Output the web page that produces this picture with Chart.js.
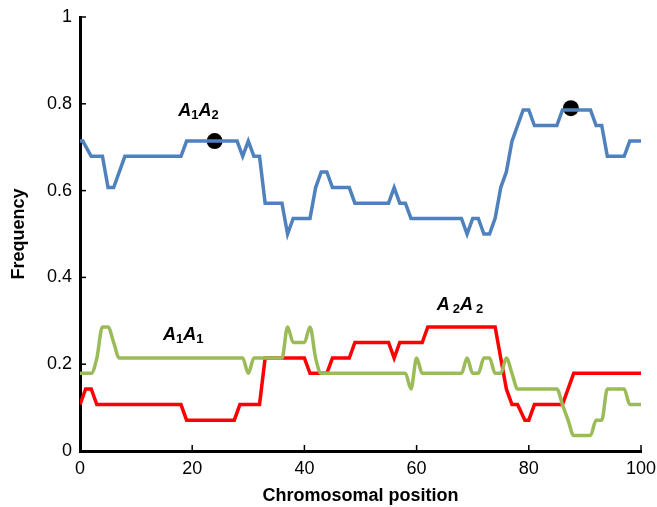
<!DOCTYPE html>
<html>
<head>
<meta charset="utf-8">
<script src="https://cdn.jsdelivr.net/npm/chart.js@4.4.1/dist/chart.umd.min.js"></script>
<style>
  html, body { margin: 0; padding: 0; background: #fff; }
  #wrap { width: 657px; height: 507px; }
</style>
</head>
<body>
<div id="wrap"><canvas id="chart"></canvas></div>
<script>
// Genotype frequencies along a chromosome

const xTicks = [0, 20, 40, 60, 80, 100];
const yTicks = [0, 0.2, 0.4, 0.6, 0.8, 1];

// A1A2 (blue)
const hetPos  = [0, 0.5, 2, 4, 5, 6, 8, 18, 19, 28, 29, 30, 31, 32, 33, 36, 37, 38, 41, 42, 43, 44, 45, 48, 49,
                 55, 56, 57, 58, 59, 68, 69, 70, 71, 72, 73, 74, 75, 76, 77, 79, 80, 81, 85, 86, 91, 92, 93, 94,
                 97, 98, 100];
const hetFreq = [.714, .714, .679, .679, .607, .607, .679, .679, .714, .714, .679, .714, .679, .679, .571, .571,
                 .5, .536, .536, .607, .643, .643, .607, .607, .571, .571, .607, .571, .571, .536, .536, .5, .536,
                 .536, .5, .5, .536, .607, .643, .714, .786, .786, .75, .75, .786, .786, .75, .75, .679, .679,
                 .714, .714];

// A2A2 (red)
const a2Pos  = [0, 1, 2, 3, 18, 19, 27.5, 28.5, 32, 33, 40, 41, 44, 45, 48, 49, 55, 56, 57, 61, 62, 74, 75, 76,
                77, 78, 79.3, 80, 81, 86, 88, 100];
const a2Freq = [.107, .143, .143, .107, .107, .071, .071, .107, .107, .214, .214, .179, .179, .214, .214, .25, .25,
                .214, .25, .25, .286, .286, .214, .143, .107, .107, .071, .071, .107, .107, .179, .179];

// A1A1 (green, smoothed)
const a1Pos  = [0, 1, 2, 3, 4, 5, 6, 7, 8, 28, 29, 30, 31, 32, 36, 37, 38, 40, 41, 42, 43, 44, 58, 59, 60, 61, 62,
                68, 69, 70, 71, 72, 73, 74, 75, 76, 77, 78, 84, 85, 86, 87, 88, 90, 91, 92, 93, 94, 97, 98, 100];
const a1Freq = [.179, .179, .179, .214, .286, .286, .25, .214, .214, .214, .214, .179, .214, .214, .214, .286, .25,
                .25, .286, .214, .179, .179, .179, .143, .214, .179, .179, .179, .214, .179, .179, .214, .214, .179,
                .179, .214, .179, .143, .143, .143, .107, .071, .036, .036, .036, .071, .071, .143, .143, .107, .107];

// highlighted points
const dotPos  = [24, 87.5];
const dotFreq = [.714, .79];

// genotype labels: [x, y, first subscript, second subscript, gap]
const genoLabels = [
  [17.5, 0.772, "1", "2", 0],
  [14.8, 0.256, "1", "1", 0],
  [63.6, 0.325, "2", "2", 3]
];

const pts = (xs, ys) => xs.map((x, i) => ({ x, y: ys[i] }));

const decor = {
  id: "decor",
  afterDatasetsDraw(chart) {
    const { ctx, scales: { x, y } } = chart;
    ctx.save();
    ctx.strokeStyle = "#000";
    ctx.lineWidth = 1.5;
    xTicks.forEach(v => {
      const px = x.getPixelForValue(v);
      ctx.beginPath(); ctx.moveTo(px, y.bottom); ctx.lineTo(px, y.bottom - 6); ctx.stroke();
    });
    yTicks.forEach(v => {
      const py = y.getPixelForValue(v);
      ctx.beginPath(); ctx.moveTo(x.left, py); ctx.lineTo(x.left + 6, py); ctx.stroke();
    });

    ctx.fillStyle = "#000";
    ctx.textBaseline = "alphabetic";
    genoLabels.forEach(([lx, ly, s1, s2, gap]) => {
      let px = x.getPixelForValue(lx);
      const py = y.getPixelForValue(ly);
      [s1, s2].forEach(s => {
        ctx.font = "italic bold 18px 'Liberation Sans', Arial, sans-serif";
        ctx.fillText("A", px, py);
        px += ctx.measureText("A").width + gap;
        ctx.font = "bold 13px 'Liberation Sans', Arial, sans-serif";
        ctx.fillText(s, px, py + 3);
        px += ctx.measureText(s).width;
      });
    });
    ctx.restore();
  }
};

const tickFont = { size: 18, family: "'Liberation Sans', Arial" };
const titleFont = { size: 18, weight: "bold", family: "'Liberation Sans', Arial" };

new Chart(document.getElementById("chart"), {
  type: "line",
  data: {
    datasets: [
      {
        label: "A1A2",
        data: pts(hetPos, hetFreq),
        borderColor: "#4F81BD",
        borderWidth: 3.5,
        tension: 0,
        pointRadius: 0
      },
      {
        label: "A1A1",
        data: pts(a1Pos, a1Freq),
        borderColor: "#9BBB59",
        borderWidth: 3.5,
        cubicInterpolationMode: "monotone",
        pointRadius: 0
      },
      {
        label: "A2A2",
        data: pts(a2Pos, a2Freq),
        borderColor: "#FF0000",
        borderWidth: 3.5,
        tension: 0,
        pointRadius: 0
      },
      {
        label: "dots",
        data: pts(dotPos, dotFreq),
        showLine: false,
        pointRadius: 8,
        pointBackgroundColor: "#000",
        pointBorderColor: "#000",
        pointBorderWidth: 0
      }
    ]
  },
  options: {
    responsive: true,
    maintainAspectRatio: false,
    animation: false,
    layout: { autoPadding: false, padding: { top: 17, right: 16, left: 0, bottom: 0 } },
    plugins: { legend: { display: false }, tooltip: { enabled: false } },
    scales: {
      x: {
        type: "linear",
        min: 0,
        max: 100,
        afterBuildTicks: s => { s.ticks = xTicks.map(v => ({ value: v })); },
        afterFit: s => { s.height = 56; s.paddingRight = 0; s.paddingLeft = 0; },
        grid: { display: false, drawTicks: false },
        border: { display: true, color: "#000", width: 3 },
        ticks: { color: "#000", padding: 7, maxRotation: 0, font: tickFont, callback: v => String(v) },
        title: { display: true, text: "Chromosomal position", color: "#000", padding: { top: 2, bottom: 0 }, font: titleFont }
      },
      y: {
        min: 0,
        max: 1,
        afterBuildTicks: s => { s.ticks = yTicks.map(v => ({ value: v })); },
        afterFit: s => { s.width = 80; s.paddingTop = 0; s.paddingBottom = 0; },
        grid: { display: false, drawTicks: false },
        border: { display: true, color: "#000", width: 3 },
        ticks: { color: "#000", padding: 8, font: tickFont, callback: v => String(v) },
        title: { display: true, text: "Frequency", color: "#000", padding: { top: 8, bottom: 0 }, font: titleFont }
      }
    }
  },
  plugins: [decor]
});
</script>
</body>
</html>
